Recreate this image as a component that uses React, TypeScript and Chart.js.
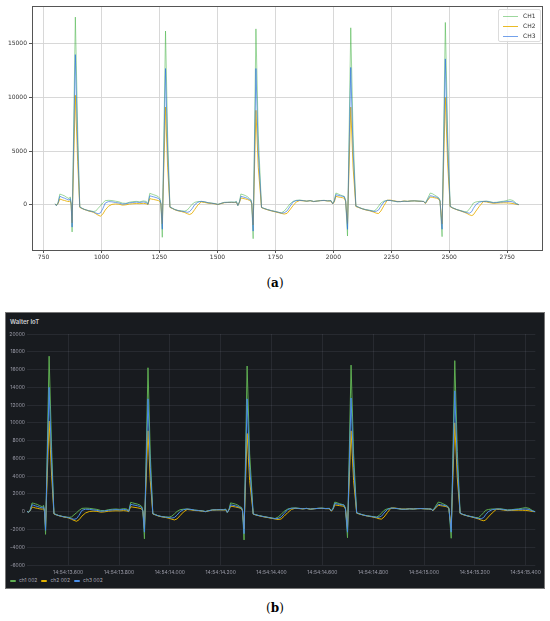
import React, { useEffect, useRef } from "react";
import { Chart, registerables } from "chart.js";

Chart.register(...registerables);

// sample index (ms) and the three channels
const sampleMs = [
  800, 805, 812, 820, 826, 833, 840, 848, 855, 860, 865, 869, 873, 887, 897, 906, 915, 925, 935, 945,
  955, 965, 975, 985, 995, 1005, 1016, 1030, 1045, 1060, 1075, 1090, 1105, 1120, 1135, 1150, 1165, 1180, 1193, 1200,
  1208, 1215, 1225, 1235, 1245, 1252, 1256, 1262, 1276, 1285, 1295, 1305, 1316, 1330, 1345, 1359, 1370, 1380, 1390, 1402,
  1415, 1430, 1445, 1460, 1475, 1490, 1502, 1515, 1530, 1545, 1560, 1573, 1582, 1588, 1595, 1601, 1610, 1620, 1630, 1638,
  1644, 1648, 1654, 1666, 1676, 1690, 1700, 1715, 1733, 1750, 1765, 1776, 1788, 1800, 1812, 1826, 1840, 1855, 1870, 1885,
  1900, 1915, 1930, 1945, 1960, 1975, 1990, 1997, 2004, 2011, 2020, 2030, 2040, 2047, 2053, 2061, 2075, 2085, 2097, 2110,
  2125, 2140, 2155, 2175, 2185, 2195, 2205, 2218, 2232, 2245, 2260, 2275, 2290, 2305, 2320, 2335, 2350, 2365, 2380, 2390,
  2397, 2405, 2418, 2427, 2436, 2445, 2454, 2460, 2469, 2483, 2493, 2504, 2515, 2533, 2550, 2565, 2576, 2587, 2597, 2604,
  2615, 2630, 2647, 2660, 2675, 2690, 2705, 2720, 2735, 2750, 2762, 2775, 2790, 2800,
];

const ch1 = [
  80, -80, 150, 980, 940, 880, 820, 700, 620, 560, 720, 100, -2550, 17500, 7000, -200, -320, -430, -500, -560,
  -600, -640, -600, -350, -120, 150, 370, 400, 380, 320, 260, 140, 120, 220, 280, 300, 260, 340, 300, 50,
  1050, 1000, 920, 850, 740, 560, 120, -3050, 16200, 6500, -210, -330, -450, -540, -590, -610, -500, -250, 20, 215,
  280, 300, 250, 180, 140, 100, 20, 120, 210, 220, 240, 230, 300, -90, 300, 990, 930, 850, 730, 560,
  480, 150, -3180, 16400, 6500, -250, -340, -450, -555, -640, -720, -770, -600, -300, 50, 300, 400, 420, 380, 330,
  380, 300, 340, 380, 400, 360, 380, 90, 400, 1080, 1000, 900, 820, 770, 400, -2930, 16500, 6500, -100, -250,
  -380, -460, -520, -600, -450, -150, 150, 330, 400, 380, 330, 260, 280, 320, 300, 340, 360, 330, 320, 300,
  150, 500, 1080, 1020, 900, 780, 650, 420, -2990, 17000, 6800, -150, -300, -460, -560, -650, -680, -400, -100, 150,
  250, 300, 300, 330, 280, 200, 220, 280, 320, 400, 460, 380, 100, 0,
];

const ch2 = [
  60, -60, 80, 520, 480, 420, 390, 330, 300, 280, 380, 0, -1700, 10200, 4000, -260, -360, -450, -520, -600,
  -650, -720, -850, -980, -1080, -900, -500, -150, 20, 60, 40, -50, -20, 50, 80, 100, 90, 120, 80, 0,
  560, 520, 480, 430, 380, 280, 50, -1800, 9100, 3500, -260, -360, -480, -580, -650, -740, -850, -925, -820, -450,
  -50, 250, 200, 130, 110, 60, 0, 90, 180, 200, 200, 190, 200, -60, 200, 620, 580, 530, 470, 400,
  320, 60, -1900, 8800, 3500, -280, -370, -480, -590, -680, -760, -820, -880, -820, -500, -100, 250, 380, 350, 320,
  360, 280, 330, 370, 380, 340, 330, 60, 250, 770, 720, 680, 640, 600, 300, -1800, 9100, 3500, -180, -280,
  -400, -500, -570, -700, -800, -830, -600, -100, 400, 420, 360, 300, 290, 330, 310, 340, 350, 320, 300, 280,
  100, 350, 710, 680, 640, 600, 520, 300, -1800, 10000, 3800, -200, -330, -480, -600, -720, -820, -950, -1020, -950,
  -600, -150, 280, 250, 180, 120, 140, 160, 170, 160, 140, 100, 20, -10,
];

const ch3 = [
  70, -90, 120, 780, 720, 650, 600, 520, 460, 420, 560, 50, -2100, 14000, 5500, -220, -340, -440, -510, -580,
  -620, -680, -780, -860, -780, -400, 150, 280, 260, 200, 150, 50, 80, 160, 200, 230, 200, 250, 200, 30,
  820, 780, 720, 660, 580, 440, 80, -2300, 12700, 5000, -230, -340, -460, -560, -610, -660, -720, -650, -400, 0,
  220, 300, 260, 170, 130, 80, 10, 110, 200, 210, 220, 210, 250, -80, 250, 770, 720, 660, 580, 460,
  420, 100, -2470, 12700, 5000, -260, -350, -460, -570, -650, -730, -790, -760, -600, -200, 250, 380, 400, 370, 320,
  370, 290, 330, 370, 390, 350, 360, 80, 300, 925, 870, 820, 780, 740, 350, -2310, 12800, 5000, -140, -260,
  -390, -480, -540, -640, -620, -500, -150, 250, 400, 390, 340, 280, 280, 320, 300, 340, 350, 330, 310, 290,
  130, 420, 830, 790, 740, 690, 600, 350, -2300, 13600, 5300, -170, -310, -470, -580, -690, -760, -800, -650, -350,
  0, 230, 300, 300, 240, 170, 190, 230, 260, 280, 300, 250, 60, 0,
];

const namesA = ["CH1", "CH2", "CH3"];
const namesB = ["ch1 002", "ch2 002", "ch3 002"];
const colorsA = ["rgba(60,175,60,0.5)", "rgba(230,175,0,0.85)", "rgba(40,110,225,0.65)"];
const colorsB = ["#5fae52", "#e0b000", "#4a8ee8"];

const xTicksA = [750, 1000, 1250, 1500, 1750, 2000, 2250, 2500, 2750];
const yTicksA = [0, 5000, 10000, 15000];

// panel (b) is the same record on a clock axis: ms after 14:54:00
const timeOffsetMs = 12638;
const xTicksB = [13600, 13800, 14000, 14200, 14400, 14600, 14800, 15000, 15200, 15400];
const yTicksB = [-6000, -4000, -2000, 0, 2000, 4000, 6000, 8000, 10000, 12000, 14000, 16000, 18000, 20000];

const channels = [ch1, ch2, ch3];

const frameA = {
  id: "frameA",
  afterDatasetsDraw(chart: Chart) {
    const { ctx, chartArea } = chart;
    ctx.save();
    ctx.strokeStyle = "#555";
    ctx.lineWidth = 1;
    ctx.strokeRect(
      Math.round(chartArea.left) + 0.5,
      Math.round(chartArea.top) + 0.5,
      Math.round(chartArea.right - chartArea.left),
      Math.round(chartArea.bottom - chartArea.top)
    );
    ctx.restore();
  },
};

const ChartA = () => {
  const canvasRef = useRef<HTMLCanvasElement | null>(null);

  useEffect(() => {
    if (!canvasRef.current) return;
    const chart = new Chart(canvasRef.current, {
      type: "line",
      data: {
        datasets: channels.map((values, k) => ({
          label: namesA[k],
          data: sampleMs.map((n, i) => ({ x: n, y: values[i] })),
          borderColor: colorsA[k],
          borderWidth: 1,
          pointRadius: 0,
          tension: 0,
          order: 3 - k,
        })),
      },
      options: {
        animation: false,
        responsive: true,
        maintainAspectRatio: false,
        layout: { padding: { top: 6, right: 8, left: 0, bottom: 0 } },
        plugins: { legend: { display: false }, tooltip: { enabled: false } },
        scales: {
          x: {
            type: "linear",
            min: 700,
            max: 2900,
            afterBuildTicks: (s: any) => {
              s.ticks = xTicksA.map((value) => ({ value }));
            },
            afterFit: (s: any) => {
              s.height = 12;
            },
            grid: { color: "#d4d4d4", lineWidth: 0.9, tickLength: 3, tickColor: "#444" },
            border: { display: false },
            ticks: {
              maxRotation: 0,
              autoSkip: false,
              padding: 1,
              color: "#333",
              font: { family: "DejaVu Sans", size: 6 },
              callback: (v: any) => String(v),
            },
          },
          y: {
            type: "linear",
            min: -4235,
            max: 18535,
            afterBuildTicks: (s: any) => {
              s.ticks = yTicksA.map((value) => ({ value }));
            },
            afterFit: (s: any) => {
              s.width = 32;
            },
            grid: { color: "#d4d4d4", lineWidth: 0.9, tickLength: 3, tickColor: "#444" },
            border: { display: false },
            ticks: {
              padding: 2,
              color: "#333",
              font: { family: "DejaVu Sans", size: 6 },
              callback: (v: any) => String(v),
            },
          },
        },
      },
      plugins: [frameA],
    });
    return () => chart.destroy();
  }, []);

  return (
    <div style={{ position: "absolute", left: 0, top: 0, width: 550, height: 262 }}>
      <canvas ref={canvasRef} />
    </div>
  );
};

const ChartB = () => {
  const canvasRef = useRef<HTMLCanvasElement | null>(null);

  useEffect(() => {
    if (!canvasRef.current) return;
    const chart = new Chart(canvasRef.current, {
      type: "line",
      data: {
        datasets: channels.map((values, k) => ({
          label: namesB[k],
          data: sampleMs.map((n, i) => ({ x: n + timeOffsetMs, y: values[i] })),
          borderColor: colorsB[k],
          borderWidth: 1,
          pointRadius: 0,
          tension: 0,
          order: 3 - k,
        })),
      },
      options: {
        animation: false,
        responsive: true,
        maintainAspectRatio: false,
        layout: { padding: { top: 22, right: 8, left: 0, bottom: 0 } },
        plugins: { legend: { display: false }, tooltip: { enabled: false } },
        scales: {
          x: {
            type: "linear",
            min: 800 + timeOffsetMs,
            max: 2800 + timeOffsetMs,
            afterBuildTicks: (s: any) => {
              s.ticks = xTicksB.map((value) => ({ value }));
            },
            afterFit: (s: any) => {
              s.height = 9;
            },
            grid: { color: "rgba(204,204,220,0.09)", lineWidth: 1, drawTicks: false },
            border: { display: false },
            ticks: {
              maxRotation: 0,
              autoSkip: false,
              padding: 4,
              color: "rgba(204,204,220,0.7)",
              font: { family: "Inter", size: 5 },
              callback: (v: any) => "14:54:" + (Number(v) / 1000).toFixed(3),
            },
          },
          y: {
            type: "linear",
            min: -6000,
            max: 20000,
            afterBuildTicks: (s: any) => {
              s.ticks = yTicksB.map((value) => ({ value }));
            },
            afterFit: (s: any) => {
              s.width = 22;
            },
            grid: { color: "rgba(204,204,220,0.09)", lineWidth: 1, drawTicks: false },
            border: { display: false },
            ticks: {
              padding: 2,
              color: "rgba(204,204,220,0.7)",
              font: { family: "Inter", size: 5 },
              callback: (v: any) => String(v),
            },
          },
        },
      },
    });
    return () => chart.destroy();
  }, []);

  return (
    <div style={{ position: "absolute", left: 5, top: 312, width: 540, height: 262 }}>
      <canvas ref={canvasRef} />
    </div>
  );
};

const caption = (letter: string, top: number) => (
  <div
    style={{
      position: "absolute",
      left: 0,
      top,
      width: 550,
      textAlign: "center",
      fontFamily: "'DejaVu Serif', 'Liberation Serif', serif",
      fontSize: 12,
      lineHeight: "14px",
      color: "#000",
    }}
  >
    (<b>{letter}</b>)
  </div>
);

export default function App() {
  return (
    <div
      style={{
        position: "absolute",
        left: 0,
        top: 0,
        width: 550,
        height: 621,
        background: "#fff",
        overflow: "hidden",
      }}
    >
      <ChartA />
      <div
        style={{
          position: "absolute",
          left: 498,
          top: 9,
          width: 43,
          height: 33,
          boxSizing: "border-box",
          border: "1px solid #dcdcdc",
          borderRadius: 2,
          background: "rgba(255,255,255,0.85)",
          fontFamily: "'DejaVu Sans', sans-serif",
          fontSize: 6,
          color: "#333",
        }}
      >
        {namesA.map((name, k) => (
          <div key={name} style={{ position: "absolute", left: 0, top: 2 + k * 10, height: 8, width: 41 }}>
            <div style={{ position: "absolute", left: 4, top: 4, width: 15, height: 1, background: colorsA[k] }} />
            <div style={{ position: "absolute", left: 24, top: 0, lineHeight: "8px" }}>{name}</div>
          </div>
        ))}
      </div>
      {caption("a", 276)}

      <div
        style={{
          position: "absolute",
          left: 5,
          top: 312,
          width: 540,
          height: 277,
          boxSizing: "border-box",
          border: "1px solid #777",
          background: "#181b1f",
        }}
      />
      <div
        style={{
          position: "absolute",
          left: 10,
          top: 318,
          fontFamily: "Inter, sans-serif",
          fontSize: 6,
          fontWeight: 600,
          lineHeight: "8px",
          color: "#d0d1d6",
        }}
      >
        Walter IoT
      </div>
      <ChartB />
      <div
        style={{
          position: "absolute",
          left: 10,
          top: 577,
          height: 7,
          display: "flex",
          alignItems: "center",
          gap: 4,
          fontFamily: "Inter, sans-serif",
          fontSize: 5,
          lineHeight: "7px",
          color: "rgba(204,204,220,0.8)",
        }}
      >
        {namesB.map((name, k) => (
          <div key={name} style={{ display: "flex", alignItems: "center", gap: 3 }}>
            <div style={{ width: 6, height: 2, borderRadius: 1, background: colorsB[k] }} />
            <span>{name}</span>
          </div>
        ))}
      </div>
      {caption("b", 601)}
    </div>
  );
}
